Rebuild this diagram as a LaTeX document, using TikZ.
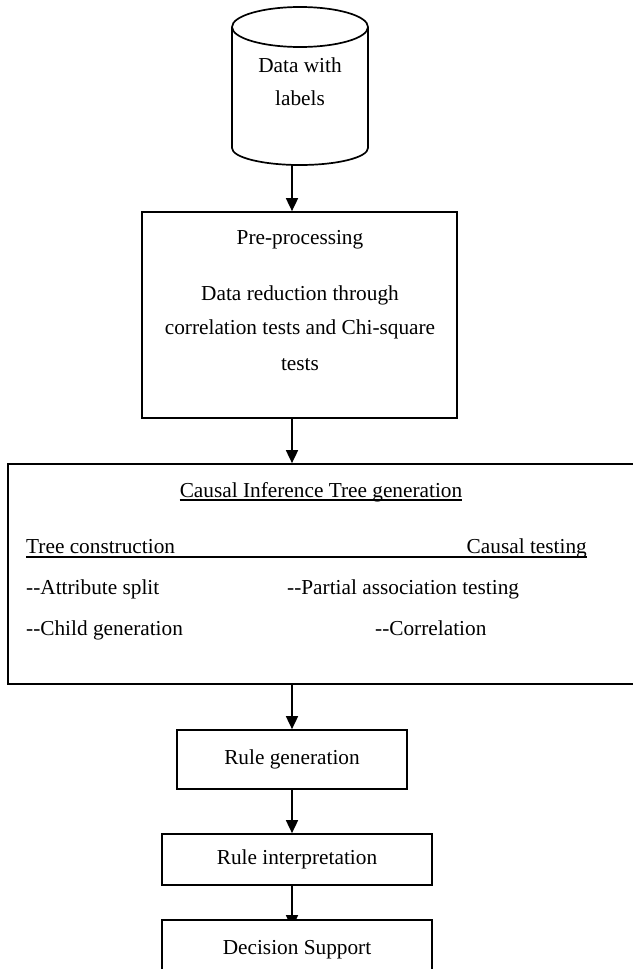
\documentclass[tikz,border=0pt]{standalone}
\usepackage{fontspec}
\setmainfont{Liberation Serif}
\usetikzlibrary{arrows.meta,backgrounds}
\begin{document}
\begin{tikzpicture}[x=1pt,y=-1pt,
  every node/.style={font=\fontsize{21.3}{25}\selectfont, inner sep=0pt},
  box/.style={draw, line width=1.7pt, fill=white, rectangle},
  lbl/.style={anchor=base},
  lblw/.style={anchor=base west},
  lble/.style={anchor=base east},
  arr/.style={line width=1.7pt, -{Triangle[width=12pt,length=13pt]}},
  ln/.style={line width=1.7pt},
  uline/.style={line width=1.2pt}]
\useasboundingbox (0,0) rectangle (632,969);

% database cylinder
\draw[ln] (232,27) -- (232,148) arc[start angle=180,end angle=360,x radius=68pt,y radius=17pt] -- (368,27);
\draw[ln] (300,27) ellipse [x radius=68pt, y radius=20pt];
\node[lbl] (d1) at (300,72) {Data with};
\node[lbl] (d2) at (300,105) {labels};
\coordinate (cylb) at (292,165);

% pre-processing
\node[box, minimum width=315pt, minimum height=206pt] (pre) at (299.5,315) {};
\node[lbl] (p1) at (300,244) {Pre-processing};
\node[lbl] (p2) at (300,300) {Data reduction through};
\node[lbl] (p3) at (300,334) {correlation tests and Chi-square};
\node[lbl] (p4) at (300,370) {tests};

% causal inference tree generation
\node[box, minimum width=632pt, minimum height=220pt] (big) at (324,574) {};
\node[lbl] (title) at (321,497) {Causal Inference Tree generation};
\draw[uline] ([yshift=-3pt]title.base west) -- ([yshift=-3pt]title.base east);
\node[lblw] (tc) at (26,553) {Tree construction};
\node[lble] (ct) at (587,553) {Causal testing};
\draw[uline] ([yshift=-4pt]tc.base west) -- ([yshift=-4pt]ct.base east);
\node[lblw] (as) at (26,594) {-{}-Attribute split};
\node[lblw] (pa) at (287,594) {-{}-Partial association testing};
\node[lblw] (cg) at (26,635) {-{}-Child generation};
\node[lblw] (co) at (375,635) {-{}-Correlation};

% rule boxes
\node[box, minimum width=230pt, minimum height=59pt] (rg) at (292,759.5) {Rule generation};
\node[box, minimum width=270pt, minimum height=51pt] (ri) at (297,859.5) {Rule interpretation};
\node[box, minimum width=270pt, minimum height=70pt] (ds) at (297,955) {};
\node[lbl] (dst) at (297,954) {Decision Support};

% connectors
\begin{scope}[on background layer]
\draw[arr] (cylb) -- (cylb |- pre.north);
\draw[arr] ([xshift=-7.5pt]pre.south) -- ([xshift=-7.5pt]pre.south |- big.north);
\draw[arr] (rg.north |- big.south) -- (rg.north);
\draw[arr] (rg.south) -- (rg.south |- ri.north);
\draw[arr] (rg.south |- ri.south) -- ([yshift=-9pt]rg.south |- ds.north);
\end{scope}
\end{tikzpicture}
\end{document}
